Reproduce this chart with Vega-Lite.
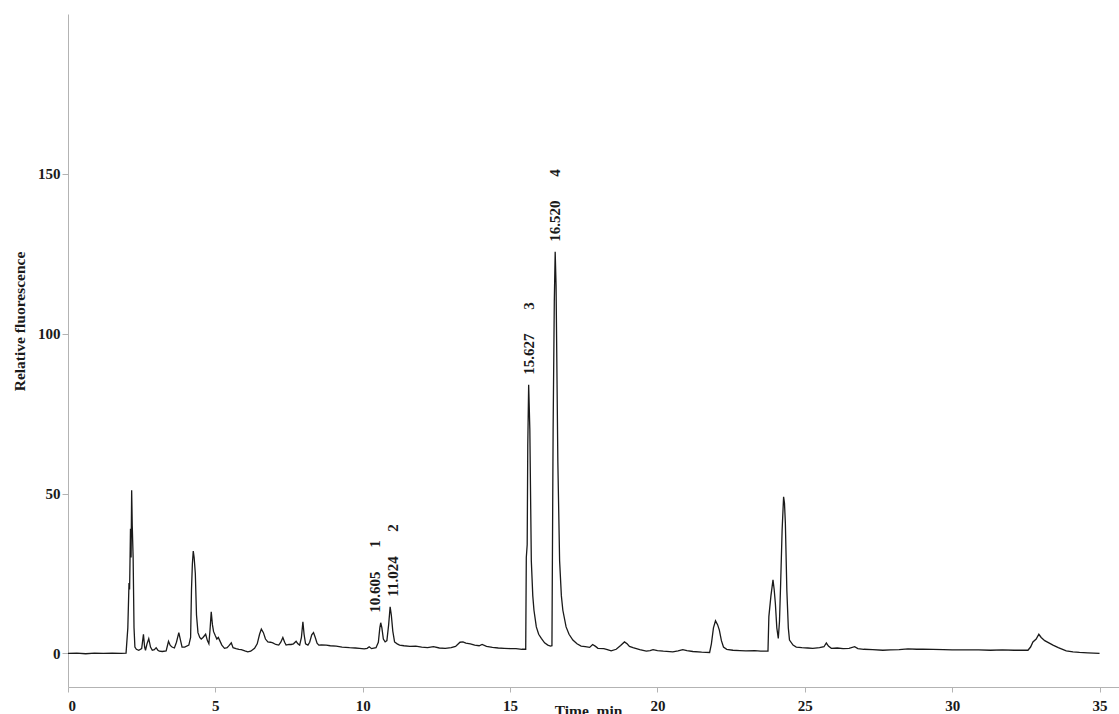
{
  "$schema": "https://vega.github.io/schema/vega-lite/v6.json",
  "width": 1051,
  "height": 673,
  "autosize": "none",
  "padding": {"left": 68, "top": 14, "right": 0, "bottom": 27},
  "background": "white",
  "config": {
    "view": {"stroke": null},
    "axis": {
      "grid": false,
      "domainColor": "#b3b3b3",
      "tickColor": "#b3b3b3",
      "labelFont": "Liberation Serif",
      "labelFontWeight": "bold",
      "labelFontSize": 15,
      "labelColor": "#1a1a1a",
      "titleFont": "Liberation Serif",
      "titleFontWeight": "bold",
      "titleFontSize": 15.5,
      "titleColor": "#1a1a1a"
    }
  },
  "datasets": {
    "trace": [
      {"t": 0, "v": 0}, {"t": 0.3, "v": 0.1}, {"t": 0.6, "v": -0.1}, {"t": 0.9, "v": 0.1}, {"t": 1.2, "v": 0},
      {"t": 1.5, "v": 0.1}, {"t": 1.8, "v": 0}, {"t": 1.97, "v": 0.1}, {"t": 2.03, "v": 8}, {"t": 2.07, "v": 22},
      {"t": 2.09, "v": 20}, {"t": 2.12, "v": 39}, {"t": 2.14, "v": 30}, {"t": 2.16, "v": 51}, {"t": 2.18, "v": 40},
      {"t": 2.21, "v": 30}, {"t": 2.24, "v": 8}, {"t": 2.27, "v": 2}, {"t": 2.32, "v": 1.3}, {"t": 2.4, "v": 1},
      {"t": 2.5, "v": 1.5}, {"t": 2.56, "v": 6}, {"t": 2.6, "v": 2}, {"t": 2.63, "v": 1}, {"t": 2.68, "v": 3},
      {"t": 2.74, "v": 4.6}, {"t": 2.8, "v": 2}, {"t": 2.86, "v": 1}, {"t": 2.93, "v": 1.2}, {"t": 2.99, "v": 1.8},
      {"t": 3.05, "v": 1}, {"t": 3.1, "v": 0.7}, {"t": 3.2, "v": 0.6}, {"t": 3.33, "v": 0.8}, {"t": 3.41, "v": 3.8},
      {"t": 3.47, "v": 2.5}, {"t": 3.53, "v": 2}, {"t": 3.61, "v": 1.7}, {"t": 3.68, "v": 3.5}, {"t": 3.76, "v": 6.5},
      {"t": 3.82, "v": 4}, {"t": 3.87, "v": 2}, {"t": 3.96, "v": 2}, {"t": 4.1, "v": 2.6}, {"t": 4.16, "v": 5},
      {"t": 4.19, "v": 20}, {"t": 4.22, "v": 28}, {"t": 4.25, "v": 32}, {"t": 4.28, "v": 30}, {"t": 4.32, "v": 25},
      {"t": 4.36, "v": 12}, {"t": 4.41, "v": 6.5}, {"t": 4.47, "v": 5}, {"t": 4.52, "v": 4.5}, {"t": 4.58, "v": 5},
      {"t": 4.67, "v": 6}, {"t": 4.73, "v": 4}, {"t": 4.78, "v": 3}, {"t": 4.82, "v": 7.5}, {"t": 4.86, "v": 13},
      {"t": 4.9, "v": 9}, {"t": 4.94, "v": 6.8}, {"t": 5.0, "v": 5.5}, {"t": 5.05, "v": 4.5}, {"t": 5.1, "v": 5},
      {"t": 5.15, "v": 4}, {"t": 5.22, "v": 2.6}, {"t": 5.31, "v": 1.6}, {"t": 5.4, "v": 1.8}, {"t": 5.47, "v": 2.5},
      {"t": 5.54, "v": 3.3}, {"t": 5.6, "v": 1.8}, {"t": 5.7, "v": 1.5}, {"t": 5.8, "v": 1.3}, {"t": 5.88, "v": 1.2},
      {"t": 6.0, "v": 0.8}, {"t": 6.1, "v": 0.5}, {"t": 6.2, "v": 0.7}, {"t": 6.33, "v": 1.6}, {"t": 6.42, "v": 3},
      {"t": 6.5, "v": 6}, {"t": 6.56, "v": 7.6}, {"t": 6.63, "v": 6.5}, {"t": 6.7, "v": 4.5}, {"t": 6.78, "v": 3.6},
      {"t": 6.87, "v": 3.5}, {"t": 6.95, "v": 3.3}, {"t": 7.05, "v": 2.8}, {"t": 7.15, "v": 2.6}, {"t": 7.22, "v": 3.5},
      {"t": 7.29, "v": 5}, {"t": 7.35, "v": 3.5}, {"t": 7.4, "v": 2.6}, {"t": 7.5, "v": 2.8}, {"t": 7.57, "v": 2.8},
      {"t": 7.65, "v": 3}, {"t": 7.74, "v": 3.8}, {"t": 7.8, "v": 3}, {"t": 7.86, "v": 2.6}, {"t": 7.92, "v": 5},
      {"t": 7.97, "v": 9.9}, {"t": 8.01, "v": 6}, {"t": 8.06, "v": 3}, {"t": 8.14, "v": 2.6}, {"t": 8.2, "v": 3.5},
      {"t": 8.27, "v": 5.8}, {"t": 8.33, "v": 6.5}, {"t": 8.39, "v": 5}, {"t": 8.45, "v": 3.2}, {"t": 8.51, "v": 2.6},
      {"t": 8.6, "v": 2.7}, {"t": 8.76, "v": 2.6}, {"t": 8.9, "v": 2.4}, {"t": 9.1, "v": 2.3}, {"t": 9.3, "v": 2.0},
      {"t": 9.55, "v": 1.8}, {"t": 9.75, "v": 1.7}, {"t": 9.89, "v": 1.6}, {"t": 10.05, "v": 1.4}, {"t": 10.15, "v": 1.6},
      {"t": 10.22, "v": 2.1}, {"t": 10.3, "v": 1.5}, {"t": 10.45, "v": 1.8}, {"t": 10.53, "v": 3.5}, {"t": 10.58, "v": 8},
      {"t": 10.61, "v": 9.6}, {"t": 10.65, "v": 8}, {"t": 10.7, "v": 4.5}, {"t": 10.76, "v": 3.6}, {"t": 10.82, "v": 4},
      {"t": 10.88, "v": 9}, {"t": 10.93, "v": 14.6}, {"t": 10.97, "v": 12}, {"t": 11.02, "v": 7}, {"t": 11.08, "v": 3.6},
      {"t": 11.17, "v": 3}, {"t": 11.25, "v": 2.6}, {"t": 11.4, "v": 2.4}, {"t": 11.6, "v": 2.2}, {"t": 11.8, "v": 2.3},
      {"t": 12.0, "v": 2.0}, {"t": 12.2, "v": 1.8}, {"t": 12.4, "v": 2.1}, {"t": 12.6, "v": 1.7}, {"t": 12.8, "v": 1.6},
      {"t": 13.0, "v": 1.8}, {"t": 13.15, "v": 2.2}, {"t": 13.3, "v": 3.5}, {"t": 13.4, "v": 3.6}, {"t": 13.5, "v": 3.2},
      {"t": 13.65, "v": 3.0}, {"t": 13.8, "v": 2.6}, {"t": 13.95, "v": 2.4}, {"t": 14.05, "v": 2.8}, {"t": 14.2, "v": 2.2},
      {"t": 14.4, "v": 1.9}, {"t": 14.6, "v": 1.7}, {"t": 14.8, "v": 1.6}, {"t": 15.0, "v": 1.5}, {"t": 15.2, "v": 1.5},
      {"t": 15.4, "v": 1.3}, {"t": 15.53, "v": 1.3}, {"t": 15.55, "v": 30}, {"t": 15.58, "v": 34}, {"t": 15.6, "v": 65},
      {"t": 15.63, "v": 84}, {"t": 15.67, "v": 70}, {"t": 15.72, "v": 29}, {"t": 15.77, "v": 18}, {"t": 15.81, "v": 13.5},
      {"t": 15.89, "v": 8.3}, {"t": 15.97, "v": 6}, {"t": 16.06, "v": 4.7}, {"t": 16.17, "v": 3.3}, {"t": 16.28, "v": 2.6},
      {"t": 16.37, "v": 2.3}, {"t": 16.42, "v": 2.4}, {"t": 16.43, "v": 20}, {"t": 16.46, "v": 70}, {"t": 16.5, "v": 110},
      {"t": 16.53, "v": 125.6}, {"t": 16.56, "v": 115}, {"t": 16.62, "v": 60}, {"t": 16.68, "v": 29}, {"t": 16.74, "v": 18},
      {"t": 16.79, "v": 13.5}, {"t": 16.9, "v": 8.3}, {"t": 17.0, "v": 6}, {"t": 17.13, "v": 4.2}, {"t": 17.27, "v": 3},
      {"t": 17.41, "v": 2.3}, {"t": 17.55, "v": 2.1}, {"t": 17.7, "v": 1.9}, {"t": 17.8, "v": 2.8}, {"t": 17.9, "v": 2.2},
      {"t": 17.98, "v": 1.6}, {"t": 18.18, "v": 1.5}, {"t": 18.3, "v": 1.2}, {"t": 18.43, "v": 0.8}, {"t": 18.6, "v": 1.3},
      {"t": 18.75, "v": 2.5}, {"t": 18.88, "v": 3.6}, {"t": 18.97, "v": 3}, {"t": 19.05, "v": 2.2}, {"t": 19.17, "v": 1.8},
      {"t": 19.4, "v": 1.2}, {"t": 19.62, "v": 0.7}, {"t": 19.75, "v": 0.9}, {"t": 19.85, "v": 1.2}, {"t": 20.0, "v": 0.9},
      {"t": 20.2, "v": 0.7}, {"t": 20.52, "v": 0.5}, {"t": 20.7, "v": 0.8}, {"t": 20.86, "v": 1.2}, {"t": 21.0, "v": 0.9},
      {"t": 21.2, "v": 0.6}, {"t": 21.5, "v": 0.4}, {"t": 21.77, "v": 0.3}, {"t": 21.83, "v": 3}, {"t": 21.9, "v": 8},
      {"t": 21.97, "v": 10.2}, {"t": 22.04, "v": 9}, {"t": 22.1, "v": 7.3}, {"t": 22.17, "v": 4}, {"t": 22.24, "v": 2},
      {"t": 22.35, "v": 1.3}, {"t": 22.56, "v": 1}, {"t": 22.8, "v": 0.9}, {"t": 23.0, "v": 0.8}, {"t": 23.3, "v": 0.9},
      {"t": 23.5, "v": 0.7}, {"t": 23.75, "v": 0.7}, {"t": 23.78, "v": 11.5}, {"t": 23.85, "v": 18}, {"t": 23.92, "v": 23},
      {"t": 23.96, "v": 20}, {"t": 24.0, "v": 15.7}, {"t": 24.05, "v": 8}, {"t": 24.1, "v": 4.7}, {"t": 24.14, "v": 10},
      {"t": 24.18, "v": 21.9}, {"t": 24.23, "v": 38.6}, {"t": 24.28, "v": 49}, {"t": 24.31, "v": 47}, {"t": 24.34, "v": 40.7},
      {"t": 24.39, "v": 19.8}, {"t": 24.44, "v": 8}, {"t": 24.48, "v": 4.2}, {"t": 24.6, "v": 2.6}, {"t": 24.71, "v": 2},
      {"t": 24.9, "v": 1.8}, {"t": 25.1, "v": 1.7}, {"t": 25.27, "v": 1.6}, {"t": 25.5, "v": 1.8}, {"t": 25.65, "v": 2.1},
      {"t": 25.73, "v": 3.3}, {"t": 25.8, "v": 2.3}, {"t": 25.9, "v": 1.6}, {"t": 26.1, "v": 1.7}, {"t": 26.3, "v": 1.5},
      {"t": 26.5, "v": 1.6}, {"t": 26.69, "v": 2.1}, {"t": 26.8, "v": 1.5}, {"t": 27.0, "v": 1.3}, {"t": 27.3, "v": 1.2},
      {"t": 27.65, "v": 1}, {"t": 27.9, "v": 1.1}, {"t": 28.2, "v": 1.2}, {"t": 28.5, "v": 1.4}, {"t": 28.8, "v": 1.3},
      {"t": 29.0, "v": 1.3}, {"t": 29.35, "v": 1.25}, {"t": 29.7, "v": 1.2}, {"t": 30.0, "v": 1.1}, {"t": 30.48, "v": 1.1},
      {"t": 30.9, "v": 1.1}, {"t": 31.3, "v": 1}, {"t": 31.7, "v": 1.1}, {"t": 32.1, "v": 1}, {"t": 32.57, "v": 1},
      {"t": 32.66, "v": 2}, {"t": 32.74, "v": 3.6}, {"t": 32.85, "v": 4.5}, {"t": 32.94, "v": 6}, {"t": 33.02, "v": 5},
      {"t": 33.14, "v": 4}, {"t": 33.28, "v": 3.3}, {"t": 33.42, "v": 2.6}, {"t": 33.6, "v": 1.8}, {"t": 33.87, "v": 0.8},
      {"t": 34.1, "v": 0.5}, {"t": 34.32, "v": 0.3}, {"t": 34.6, "v": 0.2}, {"t": 35.0, "v": 0}
    ],
    "peaks": [
      {"rt": 10.605, "h": 9.6, "name": "10.605", "num": "1"},
      {"rt": 11.024, "h": 14.6, "name": "11.024", "num": "2"},
      {"rt": 15.627, "h": 84, "name": "15.627", "num": "3"},
      {"rt": 16.52, "h": 125.6, "name": "16.520", "num": "4"}
    ]
  },
  "layer": [
    {
      "data": {"name": "trace"},
      "mark": {"type": "line", "color": "#1a1a1a", "strokeWidth": 1.3, "interpolate": "linear"},
      "encoding": {
        "x": {
          "field": "t", "type": "quantitative",
          "scale": {"domain": [0, 35.66], "nice": false, "zero": false},
          "axis": {
            "values": [0, 5, 10, 15, 20, 25, 30, 35],
            "tickSize": 5, "labelPadding": 6,
            "title": "Time, min", "titleBaseline": "top", "titleY": 16, "titleX": 520
          }
        },
        "y": {
          "field": "v", "type": "quantitative",
          "scale": {"domain": [-10.5, 200], "nice": false, "zero": false},
          "axis": {
            "values": [0, 50, 100, 150],
            "tickSize": 6, "labelPadding": 2,
            "title": "Relative fluorescence", "titleY": 307, "titlePadding": 10
          }
        }
      }
    },
    {
      "data": {"name": "peaks"},
      "transform": [{"filter": "datum.num != '1'"}],
      "mark": {"type": "text", "angle": 270, "align": "left", "baseline": "middle", "dx": 10,
               "font": "Liberation Serif", "fontWeight": "bold", "fontSize": 15, "color": "#1a1a1a"},
      "encoding": {
        "x": {"field": "rt", "type": "quantitative"},
        "y": {"field": "h", "type": "quantitative"},
        "text": {"field": "name"}
      }
    },
    {
      "data": {"name": "peaks"},
      "transform": [{"filter": "datum.num != '1'"}],
      "mark": {"type": "text", "angle": 270, "align": "left", "baseline": "middle", "dx": 75,
               "font": "Liberation Serif", "fontWeight": "bold", "fontSize": 15, "color": "#1a1a1a"},
      "encoding": {
        "x": {"field": "rt", "type": "quantitative"},
        "y": {"field": "h", "type": "quantitative"},
        "text": {"field": "num"}
      }
    },
    {
      "data": {"name": "peaks"},
      "transform": [{"filter": "datum.num == '1'"}],
      "mark": {"type": "text", "angle": 270, "align": "left", "baseline": "middle", "dx": 10, "dy": -6,
               "font": "Liberation Serif", "fontWeight": "bold", "fontSize": 15, "color": "#1a1a1a"},
      "encoding": {
        "x": {"field": "rt", "type": "quantitative"},
        "y": {"field": "h", "type": "quantitative"},
        "text": {"field": "name"}
      }
    },
    {
      "data": {"name": "peaks"},
      "transform": [{"filter": "datum.num == '1'"}],
      "mark": {"type": "text", "angle": 270, "align": "left", "baseline": "middle", "dx": 75, "dy": -6,
               "font": "Liberation Serif", "fontWeight": "bold", "fontSize": 15, "color": "#1a1a1a"},
      "encoding": {
        "x": {"field": "rt", "type": "quantitative"},
        "y": {"field": "h", "type": "quantitative"},
        "text": {"field": "num"}
      }
    }
  ]
}
